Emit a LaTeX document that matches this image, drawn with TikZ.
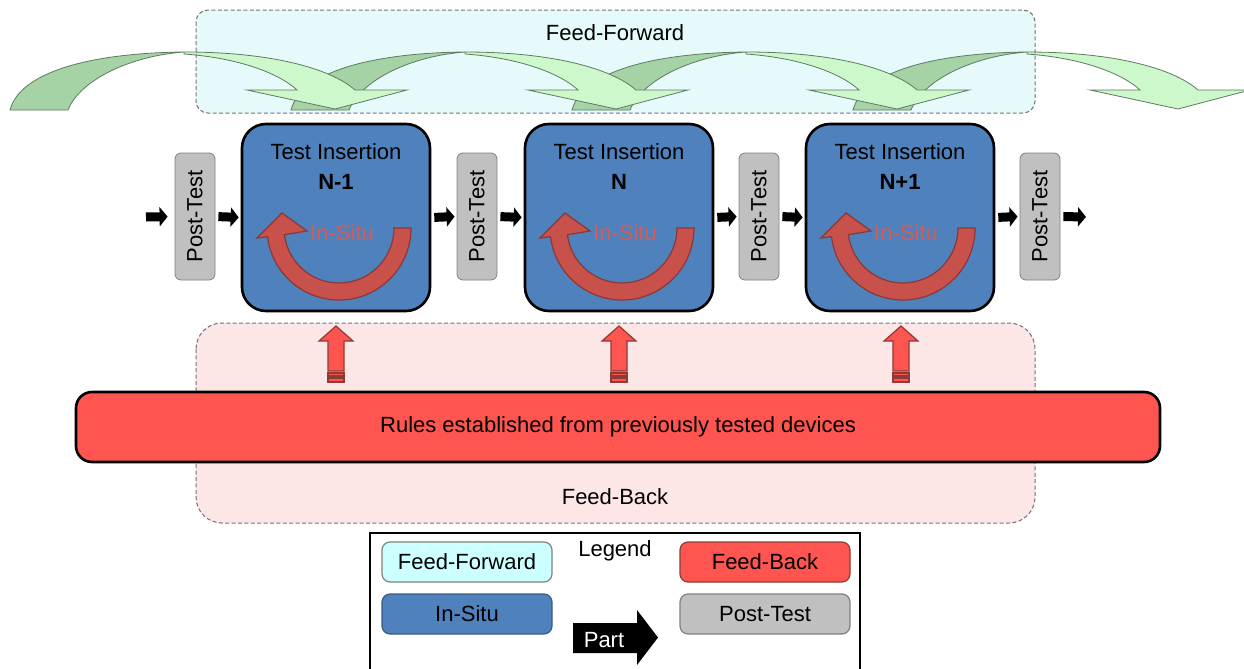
\documentclass[tikz,border=0pt]{standalone}
\usepackage{fontspec}
\setmainfont{Liberation Sans}
\usepackage{graphicx}
\usetikzlibrary{arrows.meta,positioning}

\definecolor{ffregion}{HTML}{E6FAFC}
\definecolor{fbregion}{HTML}{FDE6E6}
\definecolor{insitublue}{HTML}{4F81BD}
\definecolor{insitured}{HTML}{C9514C}
\definecolor{insituline}{HTML}{8C3834}
\definecolor{insitutext}{HTML}{D65B56}
\definecolor{rulered}{HTML}{FF5550}
\definecolor{pushline}{HTML}{8E3A36}
\definecolor{postgray}{HTML}{C0C0C0}
\definecolor{ffgreen}{HTML}{CCF8CC}
\definecolor{ffdark}{HTML}{A5D3A5}
\definecolor{ffline}{HTML}{5F7A5F}
\definecolor{legendcyan}{HTML}{CCFFFF}

\tikzset{
    every node/.style={font=\fontsize{11}{15}\selectfont},
    region/.style={draw=gray!90!black, dash pattern=on 2pt off 1.2pt, line width=0.5pt},
    insertion/.style={draw=black, fill=insitublue, line width=1.3pt, rounded corners=12pt, minimum width=94pt, minimum height=93.5pt},
    posttest/.style={draw=gray, fill=postgray, rounded corners=3pt, minimum width=20pt, minimum height=63.5pt, inner sep=0pt},
    partflow/.style={line width=4.5pt, -{Triangle[length=4pt,width=9.5pt]}},
    legendbox/.style={draw=gray, rounded corners=4pt, minimum width=85pt, minimum height=20pt, line width=0.6pt},
    ffback/.style={fill=ffdark, draw=ffline, line width=0.4pt},
    fffront/.style={fill=ffgreen, draw=ffline, line width=0.4pt},
    loopshape/.style={fill=insitured, draw=insituline, line width=0.6pt},
    pushshape/.style={fill=rulered, draw=pushline, line width=0.6pt}
}

\begin{document}
\begin{tikzpicture}[x=0.5pt,y=0.5pt,yscale=-1]
    \useasboundingbox (0,0) rectangle (1244,669);

    \fill[ffregion,rounded corners=6pt] (196,10) rectangle (1035,113);
    \foreach \d in {0,281,562,843}
        \draw[ffback,shift={(\d,0)}] (10,110) .. controls (20,72) and (90,53) .. (184,52) .. controls (130,56) and (80,80) .. (68,110) -- cycle;
    \foreach \d in {0,281,562,843}
        \draw[fffront,shift={(\d,0)}] (184,52) .. controls (270,52) and (330,68) .. (355,90) -- (407,90) -- (335,109) -- (247,90) -- (297,90) .. controls (280,74) and (240,58) .. (184,54) -- cycle;
    \draw[region,rounded corners=6pt] (196,10) rectangle (1035,113);
    \node (fflabel) at (615,33) {Feed-Forward};

    \draw[region,fill=fbregion,rounded corners=13pt] (196,323) rectangle (1035,523);

    \node[posttest] (pt1) at (195,216.5) {\rotatebox{90}{Post-Test}};
    \node[insertion] (ti1) at (336,217.5) {};
    \node[posttest] (pt2) at (477,216.5) {\rotatebox{90}{Post-Test}};
    \node[insertion] (ti2) at (619,217.5) {};
    \node[posttest] (pt3) at (759,216.5) {\rotatebox{90}{Post-Test}};
    \node[insertion] (ti3) at (900,217.5) {};
    \node[posttest] (pt4) at (1040,216.5) {\rotatebox{90}{Post-Test}};

    \node[align=center] (ti1lab) at (336,167) {Test Insertion\\\textbf{N-1}};
    \node[align=center] (ti2lab) at (619,167) {Test Insertion\\\textbf{N}};
    \node[align=center] (ti3lab) at (900,167) {Test Insertion\\\textbf{N+1}};

    \foreach \bx/\tag in {336/1,619/2,900/3} {
        \draw[loopshape,shift={(\bx+3,228)}] (72,0) arc[start angle=0,end angle=173,radius=72] -- (-82,10) -- (-57,-15) -- (-32,3) -- (173:55) arc[start angle=173,end angle=0,radius=55] -- cycle;
        \node[text=insitutext] (situ\tag) at (\bx+6,233) {In-Situ};
    }

    \coordinate (flowin) at (146,217);
    \coordinate (flowout) at (1086,217);
    \draw[partflow,shorten >=3.5pt] (flowin) -- (pt1.west);
    \draw[partflow,shorten <=1.5pt,shorten >=1pt] (pt1.east) -- (ti1.west);
    \draw[partflow,shorten <=1.5pt,shorten >=1pt] (ti1.east) -- (pt2.west);
    \draw[partflow,shorten <=1.5pt,shorten >=1pt] (pt2.east) -- (ti2.west);
    \draw[partflow,shorten <=1.5pt,shorten >=1pt] (ti2.east) -- (pt3.west);
    \draw[partflow,shorten <=1.5pt,shorten >=1pt] (pt3.east) -- (ti3.west);
    \draw[partflow,shorten <=1.5pt,shorten >=1pt] (ti3.east) -- (pt4.west);
    \draw[partflow,shorten <=1.5pt] (pt4.east) -- (flowout);

    \foreach \cx in {336,619,901} {
        \draw[pushshape] (\cx,326) -- (\cx+17,341) -- (\cx+8,341) -- (\cx+8,371) -- (\cx-8,371) -- (\cx-8,341) -- (\cx-17,341) -- cycle;
        \draw[pushshape] (\cx-8,373) rectangle (\cx+8,376);
        \draw[pushshape] (\cx-8,378) rectangle (\cx+8,382);
    }

    \node[draw=black, fill=rulered, line width=1.3pt, rounded corners=8pt, minimum width=542pt, minimum height=35pt] (rules) at (618,427) {Rules established from previously tested devices};
    \node (fblabel) at (615,497) {Feed-Back};

    \draw[line width=1pt] (370,533) rectangle (860,700);
    \node (legend) at (615,551) {Legend};
    \node[legendbox, fill=legendcyan] (lgff) at (467,562) {Feed-Forward};
    \node[legendbox, fill=rulered, draw=pushline] (lgfb) at (765,562) {Feed-Back};
    \node[legendbox, fill=insitublue, draw=insitublue!70!black] (lgis) at (467,614) {In-Situ};
    \node[legendbox, fill=postgray] (lgpt) at (765,614) {Post-Test};
    \fill (573,623) -- (637,623) -- (637,610) -- (658,637.5) -- (637,665) -- (637,653) -- (573,653) -- cycle;
    \node[text=white] (lgpart) at (604,640) {Part};

\end{tikzpicture}
\end{document}
